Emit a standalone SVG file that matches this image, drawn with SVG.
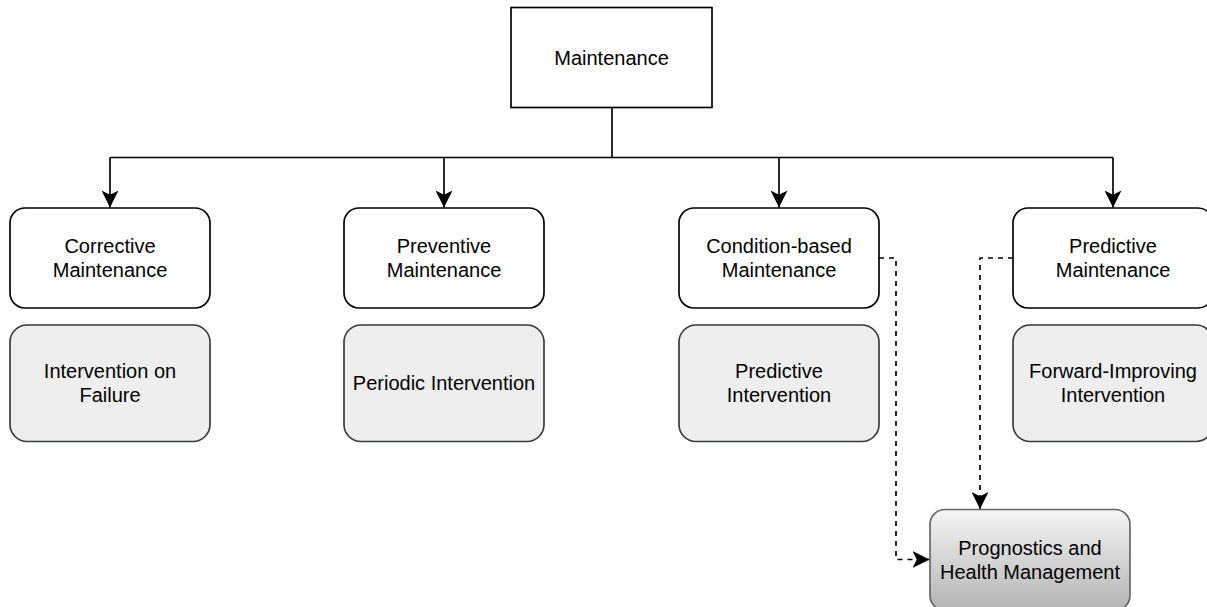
<svg xmlns="http://www.w3.org/2000/svg" width="1207" height="607" viewBox="0 0 1207 607">
  <defs>
    <style>
      .lbl { font-family: "Liberation Sans", Arial, Helvetica, sans-serif; font-size: 20px; fill: #000; text-anchor: middle; dominant-baseline: central; }
      .root { fill: #fff; stroke: #000; stroke-width: 1.67; }
      .kind { fill: #fff; stroke: #000; stroke-width: 1.67; }
      .act { fill: #eeeeee; stroke: #36393d; stroke-width: 1.67; }
      .phm { fill: url(#phmFill); stroke: #666666; stroke-width: 1.67; }
      .edge { fill: none; stroke: #000; stroke-width: 1.67; }
      .dash { fill: none; stroke: #000; stroke-width: 1.67; stroke-dasharray: 5 5; }
    </style>
    <linearGradient id="phmFill" x1="0" y1="0" x2="0" y2="1">
      <stop offset="0" stop-color="#f5f5f5"/>
      <stop offset="1" stop-color="#b3b3b3"/>
    </linearGradient>
    <marker id="arrow" viewBox="0 0 20 20" refX="20" refY="10" markerWidth="17" markerHeight="17" markerUnits="userSpaceOnUse" orient="auto">
      <path d="M0,0 L20,10 L0,20 L5,10 Z" fill="#000"/>
    </marker>
  </defs>

  <!-- connectors -->
  <g id="connectors">
    <path class="edge" d="M612,107.5 V157.5"/>
    <path class="edge" d="M110,157.5 H1113"/>
    <path class="edge" d="M110,157.5 V207.5" marker-end="url(#arrow)"/>
    <path class="edge" d="M444,157.5 V207.5" marker-end="url(#arrow)"/>
    <path class="edge" d="M779,157.5 V207.5" marker-end="url(#arrow)"/>
    <path class="edge" d="M1113,157.5 V207.5" marker-end="url(#arrow)"/>
    <path class="dash" d="M879,258 H896 V559.5 H929.5" marker-end="url(#arrow)"/>
    <path class="dash" d="M1013,258 H980 V509" marker-end="url(#arrow)"/>
  </g>

  <g id="maintenance">
    <rect class="root" x="511" y="7.5" width="201" height="100"/>
    <text class="lbl" x="611.5" y="57.5">Maintenance</text>
  </g>

  <g id="corrective">
    <rect class="kind" x="10" y="208" width="200" height="100" rx="15"/>
    <text class="lbl" x="110" y="246">Corrective</text>
    <text class="lbl" x="110" y="270">Maintenance</text>
  </g>
  <g id="preventive">
    <rect class="kind" x="344" y="208" width="200" height="100" rx="15"/>
    <text class="lbl" x="444" y="246">Preventive</text>
    <text class="lbl" x="444" y="270">Maintenance</text>
  </g>
  <g id="condition-based">
    <rect class="kind" x="679" y="208" width="200" height="100" rx="15"/>
    <text class="lbl" x="779" y="246">Condition-based</text>
    <text class="lbl" x="779" y="270">Maintenance</text>
  </g>
  <g id="predictive">
    <rect class="kind" x="1013" y="208" width="200" height="100" rx="15"/>
    <text class="lbl" x="1113" y="246">Predictive</text>
    <text class="lbl" x="1113" y="270">Maintenance</text>
  </g>

  <g id="intervention-on-failure">
    <rect class="act" x="10" y="325" width="200" height="116.5" rx="17"/>
    <text class="lbl" x="110" y="371">Intervention on</text>
    <text class="lbl" x="110" y="395">Failure</text>
  </g>
  <g id="periodic-intervention">
    <rect class="act" x="344" y="325" width="200" height="116.5" rx="17"/>
    <text class="lbl" x="444" y="383">Periodic Intervention</text>
  </g>
  <g id="predictive-intervention">
    <rect class="act" x="679" y="325" width="200" height="116.5" rx="17"/>
    <text class="lbl" x="779" y="371">Predictive</text>
    <text class="lbl" x="779" y="395">Intervention</text>
  </g>
  <g id="forward-improving-intervention">
    <rect class="act" x="1013" y="325" width="200" height="116.5" rx="17"/>
    <text class="lbl" x="1113" y="371">Forward-Improving</text>
    <text class="lbl" x="1113" y="395">Intervention</text>
  </g>

  <g id="phm">
    <rect class="phm" x="930" y="509.5" width="200" height="101" rx="15"/>
    <text class="lbl" x="1030" y="548">Prognostics and</text>
    <text class="lbl" x="1030" y="572">Health Management</text>
  </g>
</svg>
